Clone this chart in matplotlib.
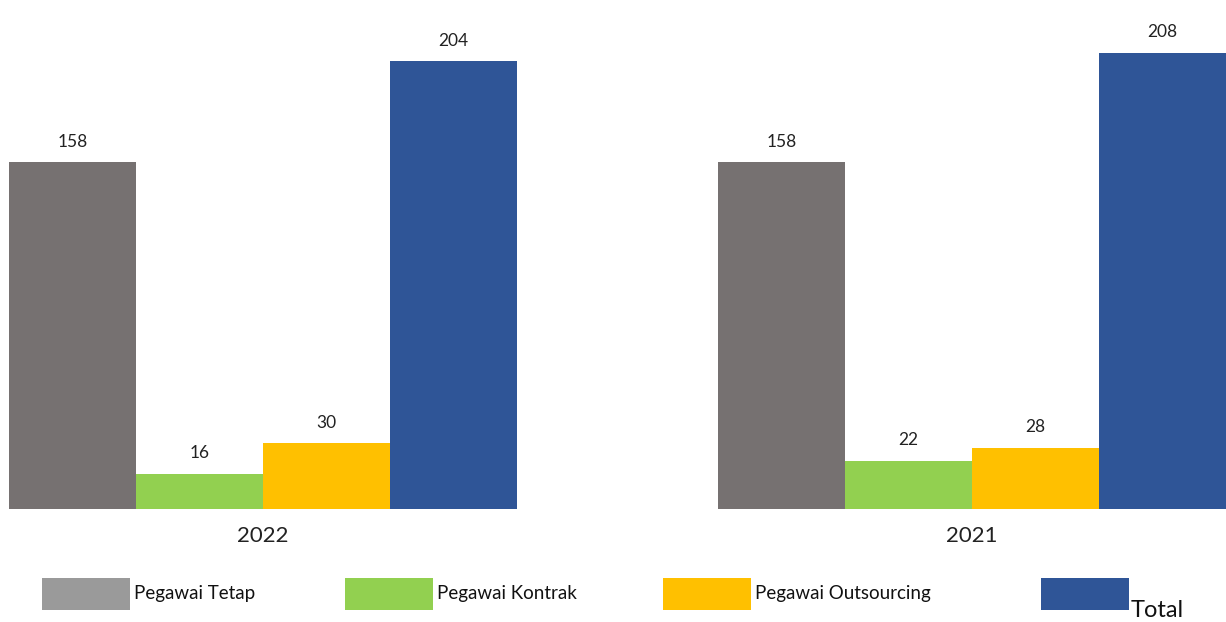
import matplotlib
matplotlib.use("Agg")
import matplotlib.pyplot as plt
from matplotlib.patches import Rectangle
import numpy as np

years = ["2022", "2021"]
series = ["Pegawai Tetap", "Pegawai Kontrak", "Pegawai Outsourcing", "Total"]
tetap = [158, 158]
kontrak = [16, 22]
outsourcing = [30, 28]
total = [204, 208]
values = [tetap, kontrak, outsourcing, total]
bar_colors = ["#767171", "#92D050", "#FFC000", "#2F5597"]
legend_colors = ["#9A9A9A", "#92D050", "#FFC000", "#2F5597"]

plt.rcParams['font.family'] = ['Lato', 'DejaVu Sans']

W, H = 1226, 622
fig = plt.figure(figsize=(W / 100, H / 100), dpi=100)
ax = fig.add_axes([9 / W, (H - 509) / H, (W - 9) / W, 509 / H])

w = 127 / 709.5
x = np.arange(len(years))
for i, (vals, c) in enumerate(zip(values, bar_colors)):
    pos = x + (i - 1.5) * w
    ax.bar(pos, vals, width=w, color=c, linewidth=0)
    for p, v in zip(pos, vals):
        ax.annotate(str(v), (p, v), xytext=(0, 9), textcoords="offset points",
                    ha="center", va="bottom", fontsize=12.5, color="#222222")

for xi in x:
    ax.hlines(0, xi - 2 * w, xi + 2 * w, color="#D0D0D0", linewidth=1.2, zorder=0)

ax.set_xlim(-2 * w, 1 + 2 * w)
ax.set_ylim(0, 232)
ax.set_xticks(x)
ax.set_xticklabels(years, fontsize=16, color="#222222")
ax.tick_params(axis="x", length=0, pad=12)
ax.set_yticks([])
for s in ax.spines.values():
    s.set_visible(False)
ax.patch.set_alpha(0)

# legend
leg_x = [42, 345, 663, 1041]
for lx, name, c in zip(leg_x, series, legend_colors):
    fig.add_artist(Rectangle((lx / W, (H - 610) / H), 88 / W, 32 / H,
                             transform=fig.transFigure, color=c, linewidth=0))
    if name == "Total":
        fig.text((lx + 90) / W, (H - 621) / H, name, fontsize=17,
                 ha="left", va="bottom", color="#111111")
    else:
        fig.text((lx + 92) / W, (H - 594) / H, name, fontsize=13.5,
                 ha="left", va="center", color="#111111")

fig.savefig("out.png", dpi=100)
